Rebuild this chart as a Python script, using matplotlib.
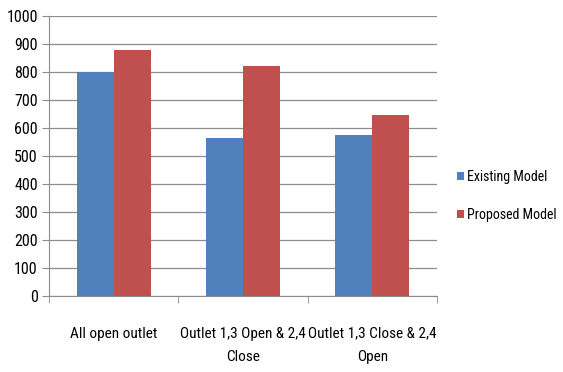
import matplotlib.pyplot as plt
from matplotlib import font_manager
import numpy as np

categories = ['All open outlet', 'Outlet 1,3 Open & 2,4\nClose', 'Outlet 1,3 Close & 2,4\nOpen']
existing = [800, 565, 575]
proposed = [880, 820, 645]
yticks = [0, 100, 200, 300, 400, 500, 600, 700, 800, 900, 1000]

# narrow font, first one that is installed
installed = set(f.name for f in font_manager.fontManager.ttflist)
wanted = ['Roboto Condensed', 'PT Sans Narrow', 'Archivo Narrow', 'Fira Sans Condensed',
          'Open Sans Condensed', 'Liberation Sans Narrow', 'Carlito', 'DejaVu Sans']
family = [f for f in wanted if f in installed][0]
plt.rcParams['font.family'] = [family, 'DejaVu Sans']
fs = 10.5

fig = plt.figure(figsize=(5.63, 3.72), dpi=100)
ax = fig.add_axes([0.087, 0.204, 0.689, 0.753])

x = np.arange(len(categories))
w = 0.287
ax.bar(x - w / 2, existing, w, color='#4F81BD', label='Existing Model', zorder=3)
ax.bar(x + w / 2, proposed, w, color='#C0504D', label='Proposed Model', zorder=3)

ax.set_xlim(-0.5, 2.5)
ax.set_ylim(0, 1000)
ax.set_yticks(yticks)
ax.yaxis.grid(True, color='#8c8c8c', linewidth=0.9, zorder=0)
ax.tick_params(axis='y', length=5, color='#8c8c8c', labelsize=fs + 1, pad=3)

ax.set_xticks(x)
ax.set_xticklabels(categories, fontsize=fs + 0.5, va='top', linespacing=1.85)
ax.set_xticks([-0.5, 0.5, 1.5, 2.5], minor=True)
ax.tick_params(axis='x', which='major', length=0, pad=22)
ax.tick_params(axis='x', which='minor', length=5, color='#8c8c8c')

for s in ['top', 'right']:
    ax.spines[s].set_visible(False)
for s in ['left', 'bottom']:
    ax.spines[s].set_color('#8c8c8c')

ax.legend(loc='center left', bbox_to_anchor=(1.02, 0.357), frameon=False,
          fontsize=fs - 0.5, handlelength=0.5, handleheight=0.5, handletextpad=0.2,
          labelspacing=1.75)

fig.savefig('out.png', dpi=100)
